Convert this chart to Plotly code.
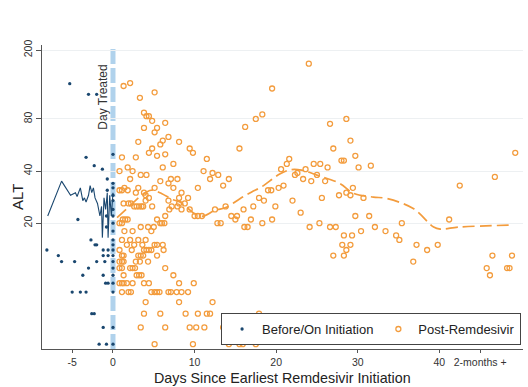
import math
import plotly.graph_objects as go

# ALT measurements taken on or before the first remdesivir dose
before_days = [
    -5.3, -3.0, -2.0, -3.3, -2.3, -1.3, -0.7, -0.7, -4.3, -0.8,
    -0.8, -2.7, -2.2, -2.0, -8.1, -1.2, -0.6, -6.7, -1.2, -0.6,
    -6.3, -4.7, -2.0, -1.0, -3.0, -3.7, -1.2, -0.9, -0.6, -5.0,
    -4.0, -3.3, -2.6, -2.3, -1.2, -1.7, -0.8,
    0.0, 0.0, 0.0, 0.0, 0.0, 0.0, 0.0, 0.0, 0.0, 0.0,
    0.0, 0.0, 0.0, 0.0, 0.0, 0.0, 0.0, 0.0, 0.0, 0.0,
]
before_alt = [
    128, 111, 111, 48, 43, 41, 36, 31, 21, 22,
    19, 16, 15, 15, 14, 14, 14, 13, 13, 13,
    12, 12, 12, 12, 11, 10, 10, 9, 9, 8,
    8, 8, 6, 6, 5, 4, 4,
    50, 34, 32, 29, 27, 24, 22, 20, 18, 16,
    15, 14, 13, 12, 11, 10, 9, 8, 5, 4,
]

# ALT measurements after remdesivir initiation
post_days = [
    1.3, 2.1, 3.3, 5.1, 19.5, 24.0, 3.8, 4.1, 4.4, 4.8,
    6.4, 3.8, 5.4, 5.1, 6.8, 6.1, 3.1, 8.1, 5.8, 4.8,
    9.4, 9.8, 4.4, 5.4, 6.4, 1.1, 2.8, 11.5, 15.5, 16.2,
    17.5, 18.3, 7.4, 1.8, 2.4, 6.1, 0.8, 11.1, 12.2, 12.9,
    3.4, 4.1, 2.1, 7.1, 7.9, 11.9, 14.2, 5.8, 6.8, 13.5,
    0.8, 1.1, 1.4, 1.8, 2.8, 3.1, 3.8, 4.0, 5.1, 7.4,
    8.4, 9.2, 10.4, 4.4, 20.6, 21.3, 21.6, 22.3, 22.6, 23.6,
    23.3, 24.3, 25.4, 20.3, 20.9, 19.0, 19.4, 17.9, 26.6, 28.6,
    29.1, 27.0, 29.7, 28.0, 28.3, 24.6, 26.3, 30.1, 31.6, 25.0,
    26.0, 29.4, 28.6, 29.1, 27.7, 30.7, 25.6, 42.5, 46.8, 49.3,
    23.0, 29.7, 31.4, 35.4, 24.1, 25.3, 26.6, 27.3, 30.4, 32.1,
    33.4, 28.3, 29.3, 34.7, 35.1, 28.1, 29.1, 28.6, 27.0, 28.3,
    37.2, 38.5, 39.8, 36.8, 41.2, 46.5, 48.9, 45.8, 46.2, 48.3,
    48.6, 19.9, 22.0, 18.5, 17.2, 16.0, 12.5, 13.8, 10.0, 10.4,
    10.9, 14.5, 15.2, 15.0, 16.9, 19.5, 12.8, 13.2, 16.1, 16.5,
    18.3, 9.9, 12.2, 10.4, 11.5, 11.9, 17.9, 10.2, 11.2, 13.5,
    14.2, 15.5, 15.9, 17.5, 1.3, 1.9, 2.2, 2.6, 2.9, 3.2,
    3.5, 3.7, 4.0, 4.8, 6.8, 8.1, 8.1, 7.2, 6.9, 7.9,
    8.4, 8.8, 9.4, 1.2, 1.5, 1.8, 0.8, 1.1, 5.4, 5.8,
    6.0, 6.3, 6.4, 3.4, 4.3, 5.0, 1.4, 2.4, 4.7, 1.1,
    2.1, 3.1, 4.0, 1.7, 2.6, 3.6, 5.1, 5.4, 6.1, 0.8,
    2.3, 3.8, 4.1, 4.4, 4.7, 6.2, 1.1, 1.3, 3.1, 3.4,
    3.7, 5.4, 0.8, 1.1, 1.3, 2.8, 3.3, 4.3, 0.8, 1.1,
    2.1, 2.4, 2.7, 6.4, 1.3, 2.9, 3.2, 3.5, 7.4, 0.8,
    1.1, 1.3, 1.7, 2.4, 3.8, 4.4, 8.1, 1.1, 1.9, 2.2,
    4.7, 5.1, 5.4, 5.7, 6.8, 7.1, 7.8, 8.4, 9.2, 4.0,
    8.1, 3.8, 5.8, 8.9, 3.4, 6.4, 9.4, 5.1, 9.8,
]
post_alt = [
    124, 129, 106, 114, 120, 167, 87, 83, 83, 78,
    76, 71, 71, 67, 63, 60, 59, 59, 57, 54,
    54, 51, 51, 49, 50, 48, 48, 47, 54, 72,
    80, 85, 44, 42, 40, 42, 40, 40, 39, 38,
    38, 38, 36, 36, 36, 36, 36, 35, 34, 33,
    31, 31, 32, 31, 30, 32, 30, 29, 32, 32,
    30, 28, 32, 28, 41, 44, 47, 38, 39, 41,
    36, 35, 44, 32, 33, 31, 31, 28, 75, 80,
    60, 54, 49, 46, 46, 44, 42, 42, 43, 38,
    35, 32, 30, 29, 29, 28, 28, 33, 37, 51,
    23, 22, 22, 20, 19, 20, 19, 19, 18, 19,
    18, 17, 17, 17, 16, 15, 15, 14, 13, 13,
    15, 14, 15, 12, 21, 13, 13, 11, 10, 11,
    11, 25, 27, 27, 25, 24, 24, 25, 22, 22,
    22, 22, 22, 21, 21, 21, 20, 20, 19, 19,
    20, 9, 7, 6, 6, 6, 6, 5, 5, 5,
    4, 4, 4, 4, 26, 26, 26, 25, 25, 25,
    25, 25, 27, 25, 27, 28, 26, 25, 24, 25,
    24, 26, 24, 21, 21, 21, 20, 20, 21, 20,
    20, 20, 22, 19, 19, 19, 18, 18, 18, 16,
    16, 16, 16, 15, 15, 15, 15, 15, 15, 14,
    14, 14, 14, 14, 14, 14, 13, 13, 13, 13,
    13, 13, 12, 12, 12, 12, 12, 12, 11, 11,
    11, 11, 11, 11, 10, 10, 10, 10, 10, 9,
    9, 9, 9, 9, 9, 9, 9, 8, 8, 8,
    8, 8, 8, 8, 8, 8, 8, 8, 8, 7,
    7, 6, 6, 6, 5, 5, 5, 4, 4,
]

# Smoothed ALT trends for each period
before_trend_days = [-8.0, -6.3, -5.2, -4.6, -4.4, -4.0, -3.7, -3.5, -3.3, -3.0,
                     -2.8, -2.6, -2.4, -2.2, -1.9, -1.6, -1.4, -1.3, -1.1, -0.9,
                     -0.7, -0.6, -0.4, -0.2, 0.0]
before_trend_alt = [22, 35, 29, 30, 28.5, 32, 27, 28, 26.5, 29,
                    33, 30, 32, 28, 26, 22, 25, 16.5, 28, 24,
                    30, 16.5, 29, 22, 30]

post_trend_days = [0.5, 2.0, 3.5, 4.7, 6.0, 7.2, 8.2, 9.2, 10.0, 10.9,
                   12.5, 13.9, 15.6, 17.0, 18.2, 20.5, 21.9, 23.1, 25.0, 27.8,
                   29.5, 31.9, 33.5, 36.8, 39.3, 40.1, 42.5, 49.1]
post_trend_alt = [21.5, 25.0, 29.0, 31.0, 29.6, 27.5, 26.5, 24.3, 22.7, 21.9,
                  23.7, 24.7, 27.8, 30.3, 32.4, 38.6, 40.8, 40.5, 37.9, 33.9,
                  29.7, 28.3, 27.8, 24.3, 19.0, 18.5, 19.0, 19.5]

x_tick_vals = [-5, 0, 10, 20, 30, 40, 45]
x_tick_text = ["-5", "0", "10", "20", "30", "40", "2-months +"]
y_tick_vals = [20, 40, 80, 200]
y_tick_text = ["20", "40", "80", "200"]

NAVY = "#1a476f"
ORANGE = "#f39c3d"
DAY_LINE = "#b0d2ec"
AXIS = "#555555"
FONT = "Liberation Sans, Arial, sans-serif"

fig = go.Figure()

fig.add_trace(go.Scatter(
    x=post_days, y=post_alt, mode="markers", name="Post-Remdesivir",
    legendrank=2,
    marker=dict(symbol="circle-open", size=5, color=ORANGE,
                line=dict(width=1.3, color=ORANGE)),
))
fig.add_trace(go.Scatter(
    x=post_trend_days, y=post_trend_alt, mode="lines", showlegend=False,
    line=dict(color=ORANGE, width=1.7, dash="12px,5px", shape="spline"),
))
fig.add_trace(go.Scatter(
    x=before_trend_days, y=before_trend_alt, mode="lines", showlegend=False,
    line=dict(color=NAVY, width=1.1),
))
fig.add_trace(go.Scatter(
    x=before_days, y=before_alt, mode="markers", name="Before/On Initiation",
    legendrank=1,
    marker=dict(symbol="circle", size=3.3, color=NAVY),
))

# Day of first dose
fig.add_shape(type="line", xref="x", yref="paper", x0=0, x1=0, y0=0, y1=1,
              line=dict(color=DAY_LINE, width=5, dash="15px,4px"), layer="below")
fig.add_annotation(x=0, xref="x", y=0.83, yref="paper", text="Day Treated",
                   textangle=-90, showarrow=False, xanchor="right",
                   yanchor="middle", xshift=-1,
                   font=dict(family=FONT, size=12, color="#333333"))

# Axis titles
fig.add_annotation(x=0.5, xref="paper", y=-0.097, yref="paper",
                   text="Days Since Earliest Remdesivir Initiation",
                   showarrow=False, xanchor="center", yanchor="middle",
                   font=dict(family=FONT, size=14.3, color="#222222"))
fig.add_annotation(x=0, xref="paper", y=0.5, yref="paper", text="ALT",
                   textangle=-90, showarrow=False, xanchor="center",
                   yanchor="middle", xshift=-25,
                   font=dict(family=FONT, size=15, color="#222222"))

fig.update_layout(
    width=528, height=387,
    margin=dict(l=42, r=5, t=45, b=38),
    paper_bgcolor="white", plot_bgcolor="white",
    font=dict(family=FONT, color="#333333"),
    showlegend=True,
    legend=dict(
        orientation="h", x=0.996, xanchor="right", y=0.013, yanchor="bottom",
        bgcolor="white", bordercolor="#444444", borderwidth=1,
        font=dict(family=FONT, size=13, color="#222222"),
        traceorder="normal", itemwidth=30, tracegroupgap=0,
    ),
    xaxis=dict(
        range=[-8.70, 50.25], tickmode="array", tickvals=x_tick_vals,
        ticktext=x_tick_text, showgrid=False, zeroline=False,
        showline=True, linecolor=AXIS, linewidth=1,
        ticks="outside", ticklen=3, tickcolor=AXIS,
        tickfont=dict(family=FONT, size=10.5, color="#333333"),
    ),
    yaxis=dict(
        type="log", range=[math.log10(3.75), math.log10(214)],
        tickmode="array", tickvals=y_tick_vals, ticktext=y_tick_text,
        tickangle=-90, showgrid=True, gridcolor="#edf0f2", gridwidth=1,
        zeroline=False, showline=True, linecolor=AXIS, linewidth=1,
        ticks="outside", ticklen=5, tickcolor=AXIS,
        tickfont=dict(family=FONT, size=10.5, color="#333333"),
    ),
)

fig.write_html("out.html")
